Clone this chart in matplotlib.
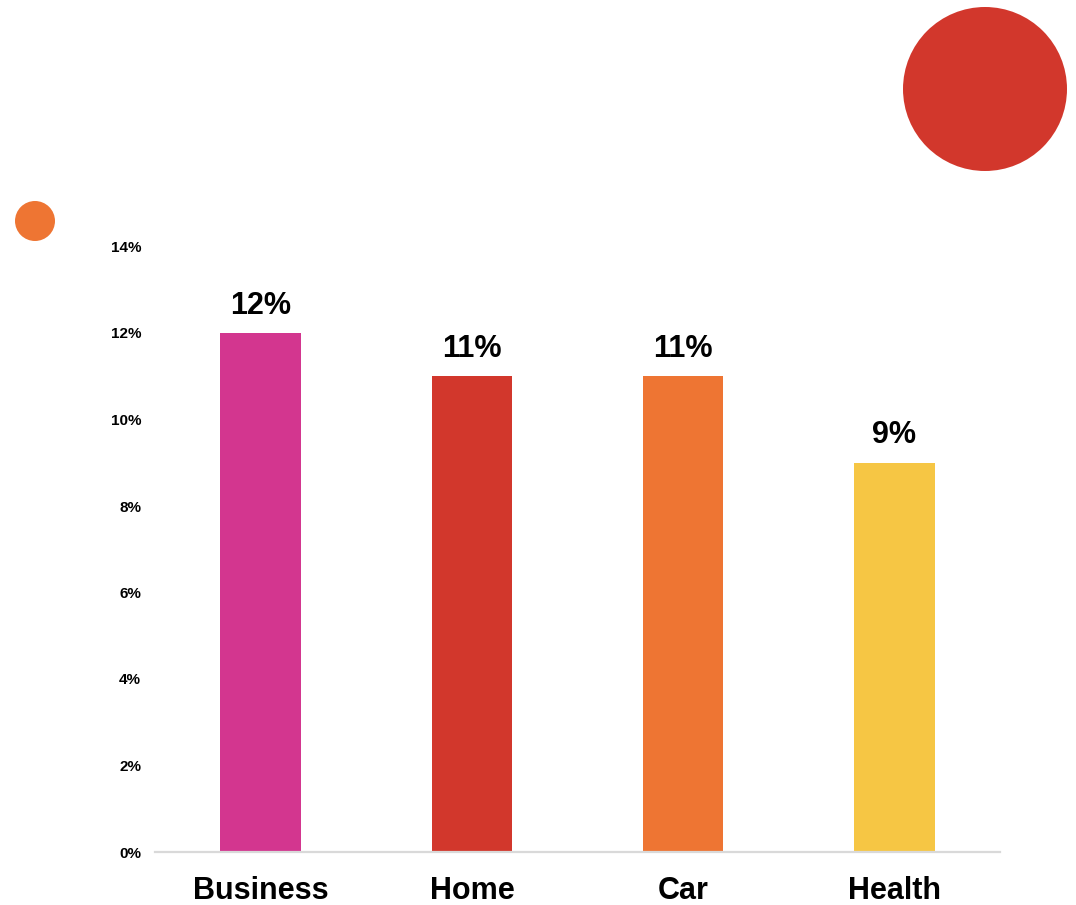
import matplotlib.pyplot as plt
from matplotlib.patches import Ellipse
from matplotlib.ticker import FuncFormatter

# 数据
categories = ['Business', 'Home', 'Car', 'Health']
values = [12, 11, 11, 9]
bar_colors = ['#D3368F', '#D2372C', '#EE7533', '#F6C644']
y_ticks = [0, 2, 4, 6, 8, 10, 12, 14]

W, H = 1076, 905
plt.rcParams['font.family'] = ['Liberation Sans', 'DejaVu Sans']
plt.rcParams['font.weight'] = 'bold'

fig = plt.figure(figsize=(W / 100, H / 100), dpi=100)
ax = fig.add_axes([155 / W, 1 - 852 / H, 845 / W, (852 - 246.5) / H])

x = range(len(categories))
bars = ax.bar(x, values, width=0.38, color=bar_colors, zorder=2)
ax.set_xlim(-0.5, len(categories) - 0.5)
ax.set_ylim(0, 14)
ax.set_yticks(y_ticks)
ax.yaxis.set_major_formatter(FuncFormatter(lambda v, p: f'{v:.0f}%'))
ax.set_xticks(list(x))
ax.set_xticklabels(categories, fontsize=22, fontweight='bold')
ax.tick_params(axis='y', length=0, pad=10, labelsize=11)
ax.tick_params(axis='x', length=0, pad=17.5)

for b, v in zip(bars, values):
    ax.annotate(f'{v}%', (b.get_x() + b.get_width() / 2, v),
                xytext=(0, 9), textcoords='offset points',
                ha='center', va='bottom', fontsize=22, fontweight='bold')

for s in ['top', 'right', 'left']:
    ax.spines[s].set_visible(False)
ax.spines['bottom'].set_color('#d9d9d9')
ax.spines['bottom'].set_linewidth(1.6)

# 装饰圆点
def add_dot(cx, cy, r, color):
    fig.add_artist(Ellipse((cx / W, 1 - cy / H), 2 * r / W, 2 * r / H,
                           transform=fig.transFigure, color=color, lw=0))

add_dot(985, 89, 82, '#D2372C')
add_dot(35, 221, 20, '#EE7533')

fig.savefig('out.png', dpi=100)
